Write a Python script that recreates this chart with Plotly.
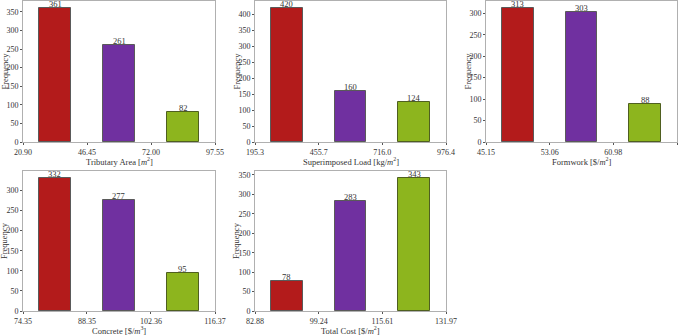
import plotly.graph_objects as go

# ---- data ----
titles = ["Tributary Area [<i>m</i><sup>2</sup>]",
          "Superimposed Load [kg/<i>m</i><sup>2</sup>]",
          "Formwork [$/<i>m</i><sup>2</sup>]",
          "Concrete [$/<i>m</i><sup>3</sup>]",
          "Total Cost [$/<i>m</i><sup>2</sup>]"]
y_title = "Frequency"

tributary_edges = [20.90, 46.45, 72.00, 97.55]
tributary_labels = ["20.90", "46.45", "72.00", "97.55"]
tributary_counts = [361, 261, 82]

load_edges = [195.3, 455.7, 716.0, 976.4]
load_labels = ["195.3", "455.7", "716.0", "976.4"]
load_counts = [420, 160, 124]

formwork_edges = [45.15, 53.06, 60.98, 68.89]
formwork_labels = ["45.15", "53.06", "60.98", "68.89"]
formwork_counts = [313, 303, 88]

concrete_edges = [74.35, 88.35, 102.36, 116.37]
concrete_labels = ["74.35", "88.35", "102.36", "116.37"]
concrete_counts = [332, 277, 95]

cost_edges = [82.88, 99.24, 115.61, 131.97]
cost_labels = ["82.88", "99.24", "115.61", "131.97"]
cost_counts = [78, 283, 343]

bar_colors = ["#b31b1b", "#7030a0", "#8db51e"]
edge_colors = ["#5a5a5a", "#5a5a5a", "#4f5f20"]

panels = [
    (tributary_edges, tributary_labels, tributary_counts, titles[0]),
    (load_edges, load_labels, load_counts, titles[1]),
    (formwork_edges, formwork_labels, formwork_counts, titles[2]),
    (concrete_edges, concrete_labels, concrete_counts, titles[3]),
    (cost_edges, cost_labels, cost_counts, titles[4]),
]

W, H = 685, 336
xdoms = [(23, 215), (255, 446), (486, 677)]
ydoms = [(1, 142), (171, 311)]

FONT = "Liberation Serif, Times New Roman, serif"
TXT = "#333333"
fig = go.Figure()
layout = {}
annotations = []
for i, (edges, labels, counts, title) in enumerate(panels):
    r, c = divmod(i, 3)
    ax = "" if i == 0 else str(i + 1)
    widths = [(edges[k + 1] - edges[k]) * 0.5 for k in range(3)]
    centers = [(edges[k] + edges[k + 1]) / 2 for k in range(3)]
    fig.add_trace(go.Bar(
        x=centers, y=counts, width=widths,
        marker=dict(color=bar_colors, line=dict(color=edge_colors, width=1)),
        showlegend=False, hoverinfo="x+y",
        xaxis="x" + ax, yaxis="y" + ax,
    ))
    for xc, v in zip(centers, counts):
        annotations.append(dict(
            x=xc, y=v, xref="x" + ax, yref="y" + ax,
            text=str(v), showarrow=False, yanchor="bottom", xanchor="center",
            yshift=-3, font=dict(family=FONT, size=8.5, color=TXT),
        ))
    x0, x1 = xdoms[c]
    y0, y1 = ydoms[r]
    # x-axis title
    annotations.append(dict(
        x=(x0 + x1) / 2 / W, y=1 - (y1 + 19.5) / H, xref="paper", yref="paper",
        text=title, showarrow=False, xanchor="center", yanchor="middle",
        font=dict(family=FONT, size=8.5, color=TXT),
    ))
    # y-axis title
    annotations.append(dict(
        x=(x0 - 19) / W, y=1 - (y0 + y1) / 2 / H, xref="paper", yref="paper",
        text=y_title, showarrow=False, textangle=-90,
        xanchor="center", yanchor="middle",
        font=dict(family=FONT, size=8.5, color=TXT),
    ))
    layout["xaxis" + ax] = dict(
        domain=[x0 / W, x1 / W], anchor="y" + ax, automargin=False,
        range=[edges[0], edges[-1]],
        tickmode="array", tickvals=edges, ticktext=labels,
        ticks="outside", ticklen=2, tickcolor="#555555",
        showline=True, linecolor="#b0b0b0", linewidth=1, mirror=True,
        showgrid=False, zeroline=False,
        tickfont=dict(family=FONT, size=8, color=TXT),
    )
    layout["yaxis" + ax] = dict(
        domain=[1 - y1 / H, 1 - y0 / H], anchor="x" + ax, automargin=False,
        range=[0, max(counts) * 1.05],
        dtick=50, ticks="outside", ticklen=2, tickcolor="#555555",
        showline=True, linecolor="#b0b0b0", linewidth=1, mirror=True,
        showgrid=False, zeroline=False,
        tickfont=dict(family=FONT, size=8, color=TXT),
    )

fig.update_layout(
    width=W, height=H,
    margin=dict(l=0, r=0, t=0, b=0),
    paper_bgcolor="white", plot_bgcolor="white",
    bargap=0,
    annotations=annotations,
    **layout,
)
fig.write_html(
    "out.html",
    config={"displayModeBar": False},
    post_script="document.body.style.margin='0px';document.body.style.overflow='hidden';",
)
